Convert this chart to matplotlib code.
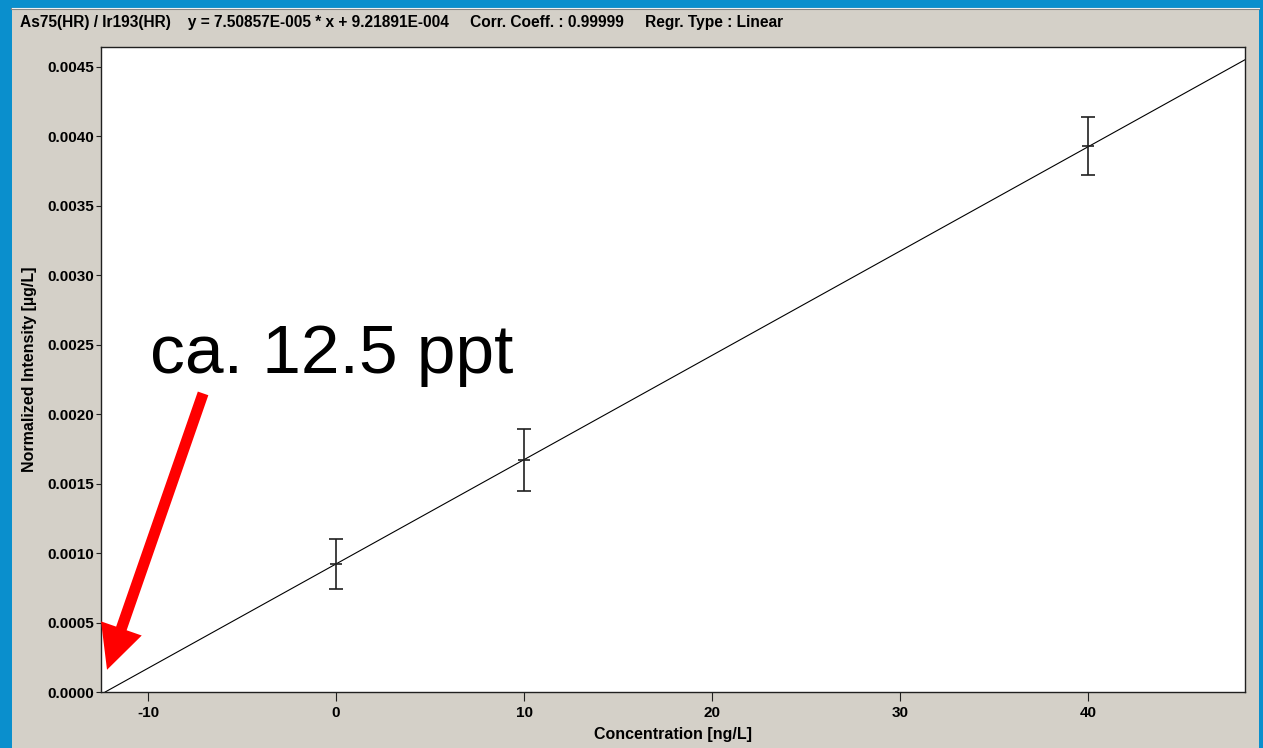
import matplotlib
matplotlib.use("Agg")
import matplotlib.pyplot as plt
from matplotlib.patches import Rectangle
from matplotlib.lines import Line2D

# calibration standards
conc = [0, 10, 40]
intensity = [0.00092, 0.00167, 0.00393]
intensity_err = [0.00018, 0.000225, 0.00021]

# regression result
slope = 7.50857E-005
intercept = 9.21891E-004
corr = 0.99999

x_ticks = [-10, 0, 10, 20, 30, 40]
y_ticks = [0.0000, 0.0005, 0.0010, 0.0015, 0.0020, 0.0025, 0.0030, 0.0035, 0.0040, 0.0045]

W, H = 1263, 748
blue = "#0a8fcd"
panel = "#d4d0c8"

plt.rcParams['font.family'] = ['Liberation Sans', 'DejaVu Sans']

fig = plt.figure(figsize=(W / 100, H / 100), dpi=100, facecolor=blue)

# grey window panel with a thin bevel
fig.patches.append(Rectangle((12 / W, 0), (1259 - 12) / W, (H - 9) / H,
                             transform=fig.transFigure, facecolor=panel,
                             edgecolor="none", zorder=-10))
fig.lines.append(Line2D([12 / W, 1259 / W], [(H - 9) / H] * 2, transform=fig.transFigure,
                        color="#808080", lw=1.5, zorder=-5))
fig.lines.append(Line2D([12 / W, 1259 / W], [(H - 8) / H] * 2, transform=fig.transFigure,
                        color="#f0f0f0", lw=0.8, zorder=-5))

ax = fig.add_axes([101 / W, (H - 692) / H, (1245 - 101) / W, (692 - 47) / H])
ax.set_facecolor("white")

x_min, x_max = -12.5, 48.35
x0 = -intercept / slope
ax.plot([x0, x_max], [0, slope * x_max + intercept], color="black", lw=0.8)

ax.errorbar(conc, intensity, yerr=intensity_err, fmt="_", color="#202020",
            ecolor="#202020", elinewidth=1.2, capsize=5, capthick=1.2,
            markersize=8, markeredgewidth=1.2)

ax.set_xlim(x_min, x_max)
ax.set_ylim(0, 0.004644)
ax.set_xticks(x_ticks)
ax.set_yticks(y_ticks)
ax.set_xticklabels([str(t) for t in x_ticks])
ax.set_yticklabels([f"{t:.4f}" for t in y_ticks])
ax.tick_params(axis="both", direction="out", width=0.8, color="#202020", labelsize=11)
ax.tick_params(axis="x", length=6.5, pad=3.5)
ax.tick_params(axis="y", length=3.6, pad=1)
for lab in ax.get_xticklabels() + ax.get_yticklabels():
    lab.set_fontweight("bold")
for s in ax.spines.values():
    s.set_color("#202020")
    s.set_linewidth(1.0)

ax.set_xlabel("Concentration [ng/L]", fontsize=11.5, fontweight="bold", labelpad=5)
ax.set_ylabel("Normalized Intensity [\u00b5g/L]", fontsize=11.5, fontweight="bold", labelpad=8)

title = ("As75(HR) / Ir193(HR)    y = 7.50857E-005 * x + 9.21891E-004"
         "     Corr. Coeff. : 0.99999     Regr. Type : Linear")
fig.text(20 / W, 1 - 22 / H, title, fontsize=11.2, fontweight="bold",
         va="center", ha="left")

# detection-limit callout
ax.annotate("", xy=(-12.18, 0.000160), xytext=(-7.07, 0.00215),
            arrowprops=dict(arrowstyle="simple,head_length=3.15,head_width=3.1,tail_width=0.8",
                            mutation_scale=10, color="red", lw=0, shrinkA=0, shrinkB=0),
            annotation_clip=False)
ax.text(-9.9, 0.0023, "ca. 12.5 ppt", fontsize=50, color="black", ha="left",
        va="baseline")

fig.savefig("out.png", dpi=100, facecolor=fig.get_facecolor())
